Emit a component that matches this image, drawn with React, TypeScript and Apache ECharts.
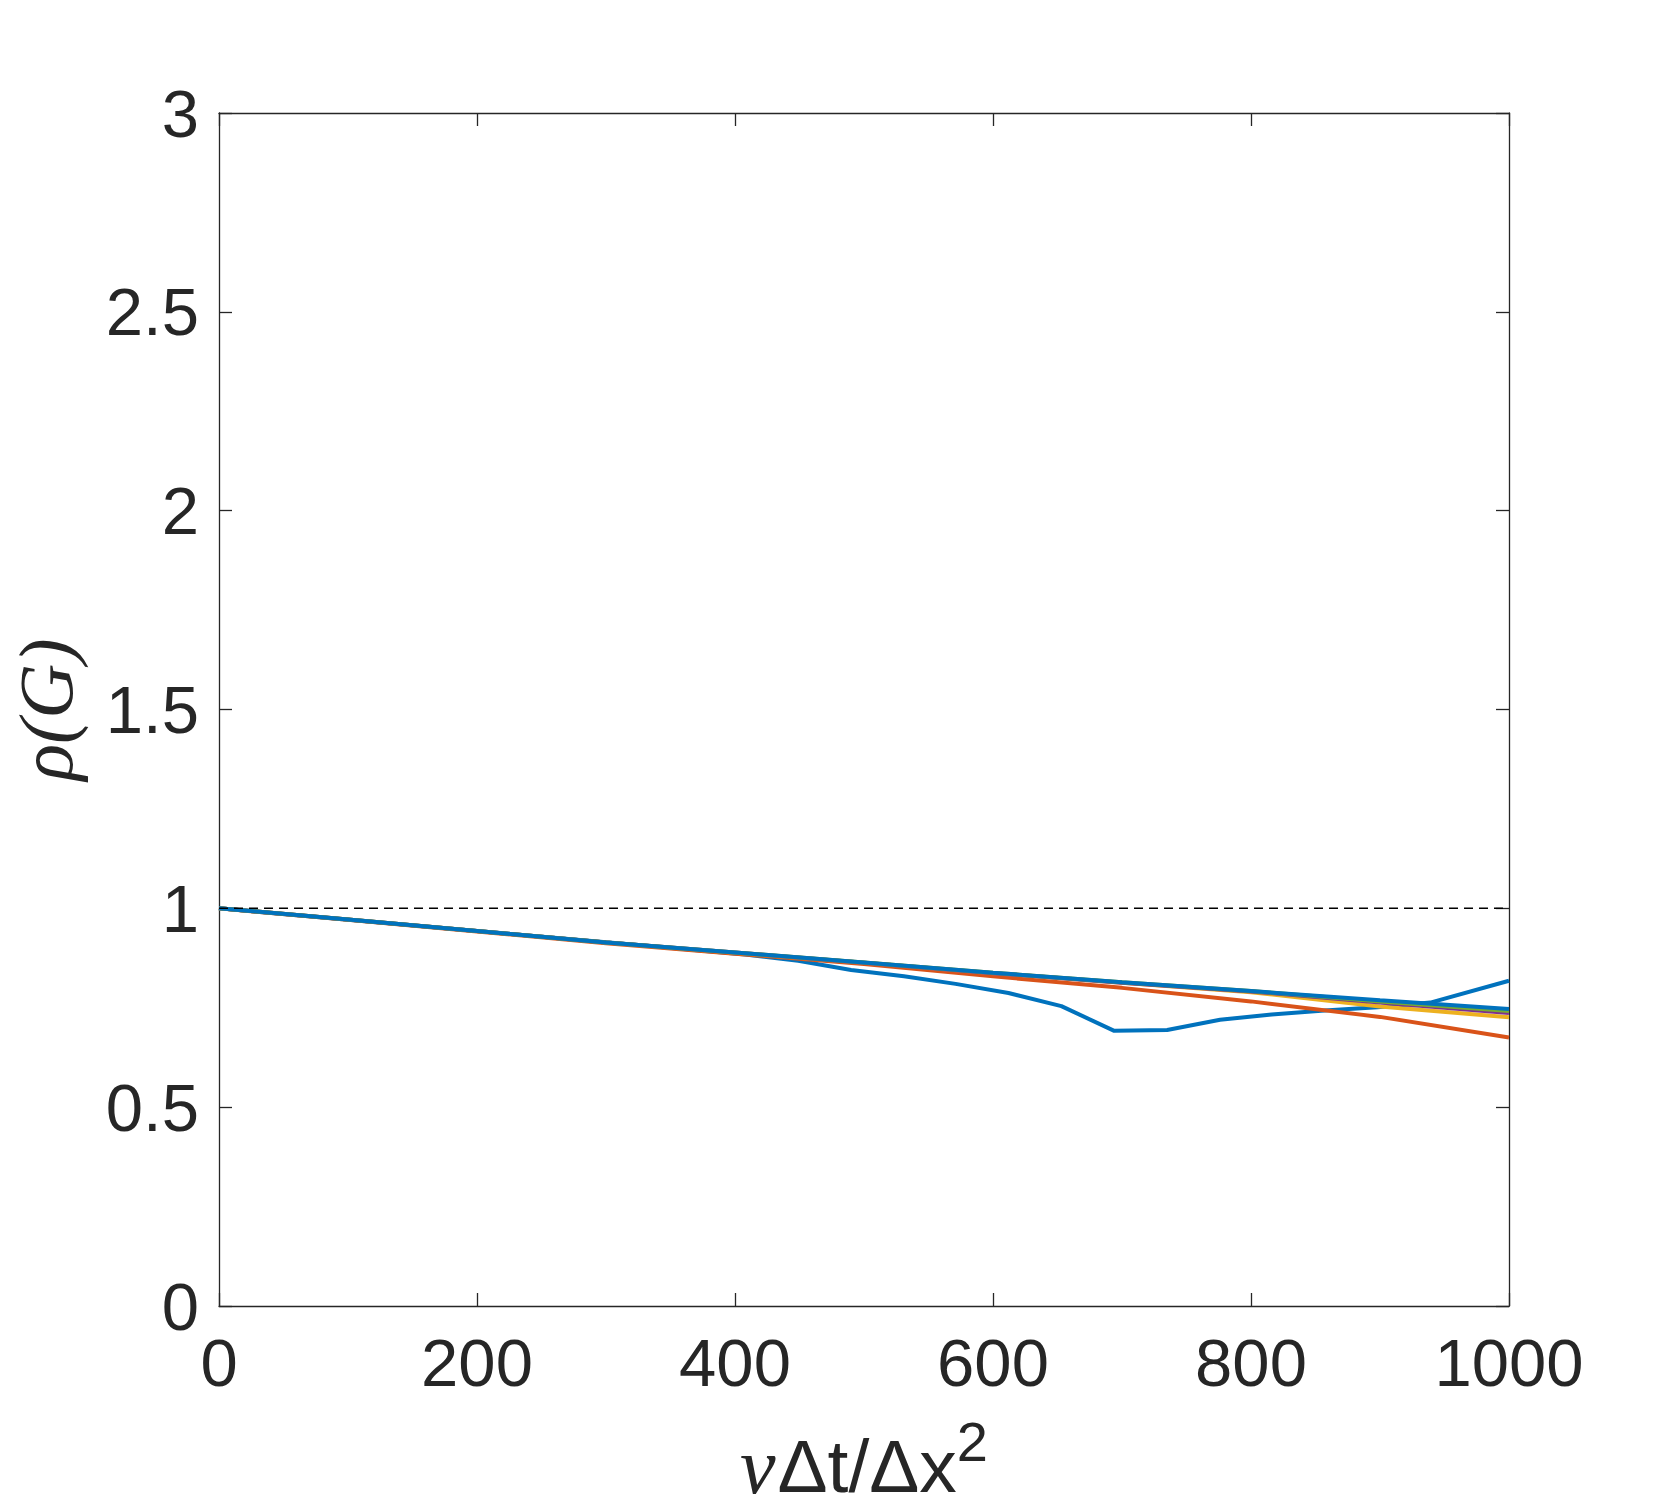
import React, { useEffect, useRef } from "react";
import * as echarts from "echarts";

// x positions (νΔt/Δx²)
const xSmooth = [0, 100, 200, 300, 400, 500, 600, 700, 800, 900, 1000];
const blueStraight = [1.0, 0.972, 0.943, 0.914, 0.889, 0.864, 0.838, 0.814, 0.792, 0.769, 0.747];
const orangeVals = [1.0, 0.971, 0.942, 0.912, 0.886, 0.86, 0.829, 0.8, 0.766, 0.727, 0.675];
const yellowVals = [1.0, 0.972, 0.943, 0.914, 0.888, 0.863, 0.837, 0.813, 0.789, 0.753, 0.726];
const purpleVals = [1.0, 0.972, 0.943, 0.914, 0.889, 0.863, 0.837, 0.813, 0.791, 0.763, 0.737];
const greenVals = [1.0, 0.972, 0.943, 0.914, 0.889, 0.864, 0.838, 0.814, 0.792, 0.766, 0.742];

const xWiggly = [0, 204, 327, 408, 449, 490, 531, 571, 612, 653, 694, 735, 776, 816, 857, 898, 939, 1000];
const blueWiggly = [1.0, 0.942, 0.907, 0.884, 0.868, 0.845, 0.829, 0.81, 0.787, 0.754, 0.692, 0.694, 0.72, 0.733, 0.743, 0.751, 0.763, 0.818];

const refX = [0, 1000];
const refY = [1, 1];

const xTicks = [0, 200, 400, 600, 800, 1000];
const yTicks = [0, 0.5, 1, 1.5, 2, 2.5, 3];

const AX = "#262626";
const SANS = "Liberation Sans";
const SERIF = "Liberation Serif";

function pairs(xs: number[], ys: number[]) {
  return xs.map((x, i) => [x, ys[i]]);
}

export default function App() {
  const ref = useRef<HTMLDivElement>(null);
  useEffect(() => {
    if (!ref.current) return;
    const chart = echarts.init(ref.current, undefined, { renderer: "svg" });
    const axisLine = { show: true, onZero: false, lineStyle: { color: AX, width: 1.3 } };
    const axisTick = { show: true, inside: true, length: 13, lineStyle: { color: AX, width: 1.3 } };
    const lineSeries = (name: string, data: number[][], color: string) => ({
      name,
      type: "line",
      data,
      showSymbol: false,
      symbol: "none",
      lineStyle: { color, width: 4 },
      xAxisIndex: 0,
      yAxisIndex: 0,
      z: 3,
    });
    chart.setOption({
      animation: false,
      backgroundColor: "#ffffff",
      grid: { left: 217, top: 113, width: 1292, height: 1193 },
      xAxis: [
        {
          type: "value",
          min: xTicks[0],
          max: xTicks[xTicks.length - 1],
          interval: 200,
          position: "bottom",
          axisLine,
          axisTick,
          splitLine: { show: false },
          axisLabel: {
            margin: 23,
            fontSize: 67,
            fontFamily: SANS,
            color: AX,
            formatter: (v: number) => String(v),
          },
          name: "{nu|ν}{b|Δt/Δx}{sup|2}",
          nameLocation: "middle",
          nameGap: 107,
          nameTextStyle: {
            rich: {
              nu: { fontFamily: SERIF, fontStyle: "italic", fontSize: 80, color: AX, lineHeight: 106, padding: [0, 2, 0, 0] },
              b: { fontFamily: SANS, fontSize: 75, color: AX, lineHeight: 106 },
              sup: { fontFamily: SANS, fontSize: 56, color: AX, lineHeight: 56, verticalAlign: "top" },
            },
          },
        },
        {
          type: "value",
          min: xTicks[0],
          max: xTicks[xTicks.length - 1],
          interval: 200,
          position: "top",
          axisLine,
          axisTick,
          splitLine: { show: false },
          axisLabel: { show: false },
        },
      ],
      yAxis: [
        {
          type: "value",
          min: yTicks[0],
          max: yTicks[yTicks.length - 1],
          interval: 0.5,
          position: "left",
          axisLine,
          axisTick,
          splitLine: { show: false },
          axisLabel: { margin: 20, fontSize: 67, fontFamily: SANS, color: AX },
          name: "ρ(G)",
          nameLocation: "middle",
          nameRotate: 90,
          nameGap: 135,
          nameTextStyle: { fontFamily: SERIF, fontStyle: "italic", fontSize: 76, color: AX },
        },
        {
          type: "value",
          min: yTicks[0],
          max: yTicks[yTicks.length - 1],
          interval: 0.5,
          position: "right",
          axisLine,
          axisTick,
          splitLine: { show: false },
          axisLabel: { show: false },
        },
      ],
      series: [
        lineSeries("wiggly", pairs(xWiggly, blueWiggly), "#0072BD"),
        lineSeries("orange", pairs(xSmooth, orangeVals), "#D95319"),
        lineSeries("yellow", pairs(xSmooth, yellowVals), "#EDB120"),
        lineSeries("purple", pairs(xSmooth, purpleVals), "#7E2F8E"),
        lineSeries("green", pairs(xSmooth, greenVals), "#77AC30"),
        lineSeries("straight", pairs(xSmooth, blueStraight), "#0072BD"),
        {
          name: "ref",
          type: "line",
          data: pairs(refX, refY),
          showSymbol: false,
          symbol: "none",
          lineStyle: { color: "#000000", width: 1.5, type: [9, 6] },
          z: 4,
        },
      ],
    });
    return () => chart.dispose();
  }, []);
  return (
    <div
      ref={ref}
      style={{ position: "absolute", left: 0, top: 0, width: 1667, height: 1512, background: "#fff" }}
    />
  );
}
